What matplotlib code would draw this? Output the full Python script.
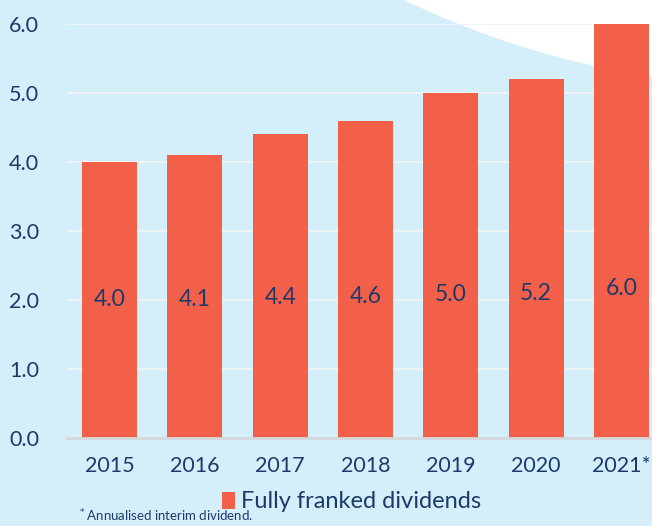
import matplotlib.pyplot as plt
from matplotlib.patches import Ellipse, Patch

# data
years = ['2015', '2016', '2017', '2018', '2019', '2020', '2021*']
dividends = [4.0, 4.1, 4.4, 4.6, 5.0, 5.2, 6.0]
yticks = [0.0, 1.0, 2.0, 3.0, 4.0, 5.0, 6.0]

bar_col = '#F2604A'
bg_col = '#D4EEFA'
txt_col = '#1E3A6B'

plt.rcParams['font.family'] = ['Lato', 'DejaVu Sans']

fig = plt.figure(figsize=(6.52, 5.26), dpi=100, facecolor=bg_col)
ax = fig.add_axes([67 / 652, 1 - 438 / 526, 1 - 67 / 652, (438 - 24) / 526])
ax.set_facecolor('none')

# white swoosh in the top right corner
swoosh = Ellipse((785 / 652, 1316 / 526), 1754 / 652, 1754 / 526,
                 transform=fig.transFigure, facecolor='white', edgecolor='none',
                 zorder=0.1, clip_on=False)
ax.add_patch(swoosh)

x = range(len(years))
ax.bar(x, dividends, width=0.645, color=bar_col, zorder=2)

# value labels inside the bars
for i, v in enumerate(dividends):
    ax.text(i, 2.0 + (v - 4.0) * 0.08, f'{v:.1f}', ha='center', va='center',
            fontsize=16.5, color=txt_col, zorder=3)

ax.set_xlim(-0.5, 6.36)
ax.set_ylim(0, 6.0)
ax.set_yticks(yticks)
ax.set_yticklabels([f'{t:.1f}' for t in yticks])
ax.set_xticks(list(x))
ax.set_xticklabels(years)
ax.tick_params(axis='both', length=0, labelsize=15.5, colors=txt_col)
ax.tick_params(axis='y', pad=20)
ax.tick_params(axis='x', pad=13)

ax.grid(axis='y', color='#EEF3F6', linewidth=1.5, zorder=1)
ax.set_axisbelow(True)
for s in ['top', 'right', 'left']:
    ax.spines[s].set_visible(False)
ax.spines['bottom'].set_color('#D3D8DB')
ax.spines['bottom'].set_linewidth(2)
ax.spines['bottom'].set_zorder(2.5)

leg = fig.legend(handles=[Patch(facecolor=bar_col, edgecolor='none',
                                label='Fully franked dividends')],
                 loc='center', bbox_to_anchor=(352 / 652, 1 - 502 / 526),
                 frameon=False, fontsize=17, handlelength=0.55, handleheight=0.75,
                 handletextpad=0.25, borderpad=0)
for t in leg.get_texts():
    t.set_color(txt_col)

fig.text(78 / 652, 2 / 526, '$^*$Annualised interim dividend.',
         fontsize=9.5, color=txt_col, ha='left', va='bottom')

fig.savefig('out.png', dpi=100, facecolor=bg_col)
